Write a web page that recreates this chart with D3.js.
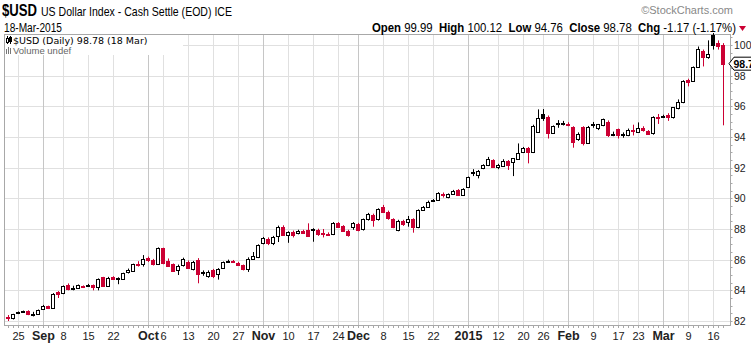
<!DOCTYPE html>
<html>
<head>
<meta charset="utf-8">
<script src="https://cdn.jsdelivr.net/npm/d3@7"></script>
<style>
  html, body { margin: 0; padding: 0; background: #fff; }
  svg { display: block; font-family: "Liberation Sans", Arial, sans-serif; }
</style>
</head>
<body>
<svg id="chart" width="751" height="343"></svg>
<script>
// Trading days shown on the chart
const days = [
  "2014-08-21","2014-08-22","2014-08-25","2014-08-26","2014-08-27","2014-08-28","2014-08-29",
  "2014-09-02","2014-09-03","2014-09-04","2014-09-05","2014-09-08","2014-09-09","2014-09-10","2014-09-11","2014-09-12",
  "2014-09-15","2014-09-16","2014-09-17","2014-09-18","2014-09-19","2014-09-22","2014-09-23","2014-09-24","2014-09-25","2014-09-26",
  "2014-09-29","2014-09-30",
  "2014-10-01","2014-10-02","2014-10-03","2014-10-06","2014-10-07","2014-10-08","2014-10-09","2014-10-10",
  "2014-10-13","2014-10-14","2014-10-15","2014-10-16","2014-10-17","2014-10-20","2014-10-21","2014-10-22","2014-10-23","2014-10-24",
  "2014-10-27","2014-10-28","2014-10-29","2014-10-30","2014-10-31",
  "2014-11-03","2014-11-04","2014-11-05","2014-11-06","2014-11-07","2014-11-10","2014-11-11","2014-11-12","2014-11-13","2014-11-14",
  "2014-11-17","2014-11-18","2014-11-19","2014-11-20","2014-11-21","2014-11-24","2014-11-25","2014-11-26","2014-11-28",
  "2014-12-01","2014-12-02","2014-12-03","2014-12-04","2014-12-05","2014-12-08","2014-12-09","2014-12-10","2014-12-11","2014-12-12",
  "2014-12-15","2014-12-16","2014-12-17","2014-12-18","2014-12-19","2014-12-22","2014-12-23","2014-12-24","2014-12-26",
  "2014-12-29","2014-12-30","2014-12-31",
  "2015-01-02","2015-01-05","2015-01-06","2015-01-07","2015-01-08","2015-01-09","2015-01-12","2015-01-13","2015-01-14","2015-01-15",
  "2015-01-16","2015-01-20","2015-01-21","2015-01-22","2015-01-23","2015-01-26","2015-01-27","2015-01-28","2015-01-29","2015-01-30",
  "2015-02-02","2015-02-03","2015-02-04","2015-02-05","2015-02-06","2015-02-09","2015-02-10","2015-02-11","2015-02-12","2015-02-13",
  "2015-02-17","2015-02-18","2015-02-19","2015-02-20","2015-02-23","2015-02-24","2015-02-25","2015-02-26","2015-02-27",
  "2015-03-02","2015-03-03","2015-03-04","2015-03-05","2015-03-06","2015-03-09","2015-03-10","2015-03-11","2015-03-12","2015-03-13",
  "2015-03-16","2015-03-17","2015-03-18"
];

// Daily open / high / low / close
const open = [
  82.28,82.17,82.53,82.62,82.67,82.44,82.43,
  82.78,82.98,82.82,83.91,83.80,84.35,84.14,84.17,84.26,
  84.31,84.33,84.20,84.85,84.30,84.89,84.76,84.74,85.20,85.26,
  85.72,85.70,
  86.08,85.98,85.70,86.74,85.91,85.70,85.33,85.65,
  85.87,85.37,86.00,85.20,84.96,85.35,85.08,85.43,85.90,85.90,
  85.80,85.62,85.40,86.05,86.20,
  87.06,87.33,87.06,87.54,88.15,87.60,87.82,87.72,87.89,87.93,
  87.95,87.95,87.72,87.70,87.67,88.37,88.20,87.89,88.10,
  88.32,87.98,88.63,88.91,88.63,89.46,89.13,88.63,87.93,88.54,
  88.48,88.65,88.10,89.24,89.46,89.85,89.90,90.30,90.06,
  90.28,90.54,90.21,
  90.76,91.66,91.52,91.95,92.17,92.50,92.02,92.10,92.43,92.39,
  92.54,93.04,93.26,93.04,94.34,95.50,95.32,94.28,94.85,94.88,
  94.86,94.63,93.84,94.63,93.63,94.85,94.56,94.78,95.00,94.22,
  94.50,94.18,94.12,94.48,94.35,94.61,94.41,94.24,95.30,
  95.35,95.45,95.33,95.87,96.30,97.72,97.65,98.54,99.63,99.20,
  100.65,100.10,99.99
];
const high = [
  82.39,82.47,82.62,82.68,82.70,82.60,82.75,
  83.05,83.00,83.82,83.95,84.32,84.45,84.30,84.38,84.32,
  84.42,84.38,84.78,84.88,84.88,84.92,84.85,85.15,85.42,85.74,
  85.90,86.30,
  86.20,86.05,86.80,86.78,86.08,85.75,85.68,86.13,
  85.95,85.92,86.10,85.30,85.30,85.40,85.45,85.88,86.00,85.98,
  85.86,85.68,86.15,86.50,87.00,
  87.48,87.45,87.55,88.22,88.24,87.85,87.90,87.95,87.95,88.37,
  88.05,88.02,88.00,87.78,88.45,88.45,88.25,87.95,88.45,
  88.40,88.68,89.05,89.00,89.35,89.57,89.20,88.70,88.60,88.60,
  88.85,88.70,89.28,89.50,89.85,89.95,90.40,90.38,90.32,
  90.55,90.60,90.66,
  91.42,91.90,91.85,92.22,92.70,92.55,92.25,92.55,92.50,92.62,
  93.58,93.35,93.35,94.80,95.80,95.82,95.40,94.75,95.10,95.05,
  94.96,94.70,94.30,94.70,94.72,94.98,94.85,95.20,95.08,94.35,
  94.55,94.30,94.55,94.80,94.95,94.70,94.45,95.35,95.50,
  95.45,95.55,95.95,96.45,97.70,97.80,98.60,99.90,99.70,100.30,
  100.78,100.30,100.12
];
const low = [
  82.00,82.10,82.45,82.55,82.38,82.30,82.40,
  82.75,82.78,82.80,83.50,83.75,84.00,84.00,84.10,84.15,
  84.25,84.00,84.00,84.28,84.25,84.68,84.40,84.68,85.10,85.20,
  85.55,85.55,
  85.85,85.62,85.65,85.70,85.54,85.22,85.00,85.55,
  85.40,85.30,84.46,84.95,84.82,84.80,84.70,85.40,85.82,85.78,
  85.60,85.30,85.20,85.98,86.10,
  87.00,86.95,86.95,87.15,87.55,87.10,87.45,87.65,87.70,87.50,
  87.17,87.55,87.45,87.55,87.60,88.10,87.85,87.50,87.95,
  87.85,87.90,88.55,88.15,88.55,89.05,88.60,88.05,87.85,88.20,
  88.15,87.76,88.05,89.20,89.40,89.78,89.85,90.05,90.00,
  90.22,90.15,90.15,
  90.70,91.45,91.30,91.90,92.10,92.00,91.90,92.05,91.85,91.45,
  92.50,92.95,92.28,92.95,94.30,95.05,93.90,94.20,94.60,94.75,
  94.70,93.30,93.75,93.45,93.55,94.60,94.45,94.70,94.00,94.05,
  93.90,93.95,94.05,94.10,94.30,94.35,94.15,94.15,94.85,
  95.30,95.05,95.20,95.80,96.20,97.30,97.60,98.50,98.60,99.10,
  99.70,99.70,94.76
];
const close = [
  82.17,82.43,82.56,82.63,82.43,82.46,82.70,
  83.00,82.82,83.76,83.74,84.28,84.06,84.17,84.35,84.24,
  84.33,84.20,84.72,84.30,84.83,84.74,84.78,85.11,85.30,85.69,
  85.66,86.04,
  85.98,85.70,86.74,85.76,85.61,85.28,85.59,86.04,
  85.48,85.87,85.04,85.15,85.22,84.95,85.41,85.83,85.93,85.82,
  85.68,85.40,86.05,86.22,86.96,
  87.43,87.06,87.50,88.15,87.60,87.82,87.60,87.89,87.76,87.54,
  87.98,87.70,87.68,87.66,88.37,88.15,87.89,87.60,88.37,
  87.93,88.63,88.96,88.59,89.28,89.13,88.70,88.15,88.54,88.32,
  88.63,88.10,89.24,89.46,89.78,89.90,90.33,90.20,90.28,
  90.50,90.21,90.60,
  91.36,91.69,91.80,92.17,92.54,92.06,92.17,92.45,92.17,92.60,
  92.93,93.26,93.04,94.71,95.21,95.25,94.28,94.71,94.89,94.90,
  94.80,93.69,94.19,93.58,94.67,94.78,94.82,95.15,94.13,94.20,
  94.13,94.20,94.45,94.40,94.61,94.46,94.20,95.28,95.22,
  95.37,95.33,95.93,96.30,97.65,97.61,98.54,99.72,99.20,99.41,
  100.00,99.95,98.78
];
const priorClose = 82.30;

// Date axis labels
const tickDays = ["2014-08-25","2014-09-02","2014-09-08","2014-09-15","2014-09-22","2014-10-01","2014-10-06",
  "2014-10-13","2014-10-20","2014-10-27","2014-11-03","2014-11-10","2014-11-17","2014-11-24","2014-12-01",
  "2014-12-08","2014-12-15","2014-12-22","2015-01-02","2015-01-12","2015-01-20","2015-01-26","2015-02-02",
  "2015-02-09","2015-02-17","2015-02-23","2015-03-02","2015-03-09","2015-03-16"];
const tickText = ["25","Sep","8","15","22","Oct","6","13","20","27","Nov","10","17","24","Dec",
  "8","15","22","2015","12","20","26","Feb","9","17","23","Mar","9","16"];
const monthLabels = ["Sep","Oct","Nov","Dec","2015","Feb","Mar"];
const priceTicks = [82,84,86,88,90,92,94,96,98,100];

const RED = "#cc0033";
const svg = d3.select("#chart");

const plot = { left: 4.5, right: 730.5, top: 34.5, bottom: 325.5 };
const x = d3.scaleBand().domain(days).range([5.5, 725.5]);
const cx = d => Math.round(x(d) + x.bandwidth() / 2);
const y = d3.scaleLinear().domain([81.74, 100.65]).range([325, 35]);

// horizontal grid
svg.append("g").selectAll("line").data(priceTicks).join("line")
  .attr("x1", plot.left).attr("x2", plot.right)
  .attr("y1", d => Math.round(y(d)) + 0.5).attr("y2", d => Math.round(y(d)) + 0.5)
  .attr("stroke", "#e0e0e0").attr("stroke-width", 1);

// vertical grid at labelled dates, month starts a little darker
svg.append("g").selectAll("line").data(tickDays).join("line")
  .attr("x1", d => cx(d) + 0.5).attr("x2", d => cx(d) + 0.5)
  .attr("y1", plot.top).attr("y2", plot.bottom)
  .attr("stroke", (d, i) => monthLabels.includes(tickText[i]) ? "#c6c6c6" : "#e0e0e0")
  .attr("stroke-width", 1);

// frame
svg.append("rect")
  .attr("x", plot.left).attr("y", plot.top)
  .attr("width", plot.right - plot.left).attr("height", plot.bottom - plot.top)
  .attr("fill", "none").attr("stroke", "#a8a8a8");

// legend block
const leg = svg.append("g");
leg.append("rect").attr("x", 5).attr("y", 35).attr("width", 178).attr("height", 20).attr("fill", "#fff");
leg.append("line").attr("x1", 7.5).attr("x2", 7.5).attr("y1", 36).attr("y2", 44).attr("stroke", "#000");
leg.append("rect").attr("x", 6.5).attr("y", 38.5).attr("width", 2).attr("height", 4).attr("fill", "#fff").attr("stroke", "#000");
leg.append("line").attr("x1", 10.5).attr("x2", 10.5).attr("y1", 36).attr("y2", 44).attr("stroke", "#000");
leg.append("rect").attr("x", 9.5).attr("y", 37.5).attr("width", 2).attr("height", 4).attr("fill", "#000").attr("stroke", "#000");
leg.append("text").attr("x", 13).attr("y", 44)
  .attr("font-family", "'DejaVu Sans', Verdana, sans-serif").attr("font-size", 9.5)
  .attr("fill", "#000").text("$USD (Daily) 98.78 (18 Mar)");
[[6, 49, 5], [8, 47, 7], [10, 48, 6]].forEach(([bx, by, bh]) => {
  leg.append("rect").attr("x", bx).attr("y", by).attr("width", 1).attr("height", bh).attr("fill", "#777");
});
leg.append("text").attr("x", 13).attr("y", 54).attr("font-size", 9.5)
  .attr("fill", "#666").text("Volume undef");

// candles
const data = days.map((d, i) => ({
  d, o: open[i], h: high[i], l: low[i], c: close[i],
  prev: i === 0 ? priorClose : close[i - 1]
}));
const colorOf = k => (k.c < k.prev ? RED : "#000");

const g = svg.append("g");
g.selectAll("line").data(data).join("line")
  .attr("x1", k => cx(k.d) + 0.5).attr("x2", k => cx(k.d) + 0.5)
  .attr("y1", k => y(k.h)).attr("y2", k => y(k.l))
  .attr("stroke", colorOf).attr("stroke-width", 1);
g.selectAll("rect").data(data).join("rect")
  .attr("x", k => cx(k.d) - 1.5)
  .attr("width", 3)
  .attr("y", k => Math.round(y(Math.max(k.o, k.c))) + 0.5)
  .attr("height", k => Math.max(1, Math.round(y(Math.min(k.o, k.c))) - Math.round(y(Math.max(k.o, k.c)))))
  .attr("fill", k => (k.c > k.o ? "#fff" : colorOf(k)))
  .attr("stroke", colorOf).attr("stroke-width", 1);

// right price axis
const ra = svg.append("g");
ra.selectAll("line.minor").data(d3.range(82, 100.61, 0.5)).join("line")
  .attr("x1", plot.right).attr("x2", plot.right + 2)
  .attr("y1", d => Math.round(y(d)) + 0.5).attr("y2", d => Math.round(y(d)) + 0.5)
  .attr("stroke", "#a8a8a8");
ra.selectAll("text").data(priceTicks).join("text")
  .attr("x", 734).attr("y", d => y(d) + 4)
  .attr("font-size", 10.5).attr("fill", "#222")
  .text(d => d);

// last price tag
const yc = y(close[close.length - 1]);
svg.append("path")
  .attr("d", `M729,${yc} L734,${yc - 6.5} L760,${yc - 6.5} L760,${yc + 6.5} L734,${yc + 6.5} Z`)
  .attr("fill", "#fff").attr("stroke", "#000");
svg.append("text").attr("x", 733.5).attr("y", yc + 4)
  .attr("font-size", 10.5).attr("font-weight", "bold")
  .text(close[close.length - 1].toFixed(2));

// bottom date axis
const ba = svg.append("g");
ba.selectAll("line").data(days).join("line")
  .attr("x1", d => cx(d) + 0.5).attr("x2", d => cx(d) + 0.5)
  .attr("y1", plot.bottom).attr("y2", plot.bottom + 2.5)
  .attr("stroke", "#a8a8a8");
ba.selectAll("text").data(tickDays).join("text")
  .attr("x", d => cx(d) + 0.5).attr("y", 340)
  .attr("text-anchor", "middle")
  .attr("font-size", (d, i) => monthLabels.includes(tickText[i]) ? 12.5 : 11)
  .attr("font-weight", (d, i) => monthLabels.includes(tickText[i]) ? "bold" : "normal")
  .attr("fill", "#222")
  .text((d, i) => tickText[i]);

// header
svg.append("text").attr("x", 2).attr("y", 16)
  .attr("font-size", 16).attr("font-weight", "bold")
  .attr("textLength", 35).attr("lengthAdjust", "spacingAndGlyphs")
  .text("$USD");
svg.append("text").attr("x", 41).attr("y", 16)
  .attr("font-size", 13)
  .attr("textLength", 191).attr("lengthAdjust", "spacingAndGlyphs")
  .text("US Dollar Index - Cash Settle (EOD) ICE");
svg.append("text").attr("x", 733).attr("y", 14)
  .attr("text-anchor", "end").attr("font-size", 11).attr("fill", "#888")
  .text("\u00A9StockCharts.com");
svg.append("text").attr("x", 4).attr("y", 32)
  .attr("font-size", 12)
  .attr("textLength", 58).attr("lengthAdjust", "spacingAndGlyphs")
  .text("18-Mar-2015");

const quote = svg.append("text").attr("x", 372).attr("y", 32)
  .attr("font-size", 12).attr("xml:space", "preserve")
  .attr("textLength", 364).attr("lengthAdjust", "spacingAndGlyphs");
[["Open ", true], ["99.99  ", false], ["High ", true], ["100.12  ", false],
 ["Low ", true], ["94.76  ", false], ["Close ", true], ["98.78  ", false],
 ["Chg ", true], ["-1.17 (-1.17%)", false]].forEach(([t, b]) => {
  quote.append("tspan").attr("font-weight", b ? "bold" : "normal").text(t);
});
svg.append("path").attr("d", "M739,26 L746,26 L742.5,31 Z").attr("fill", RED);
</script>
</body>
</html>
